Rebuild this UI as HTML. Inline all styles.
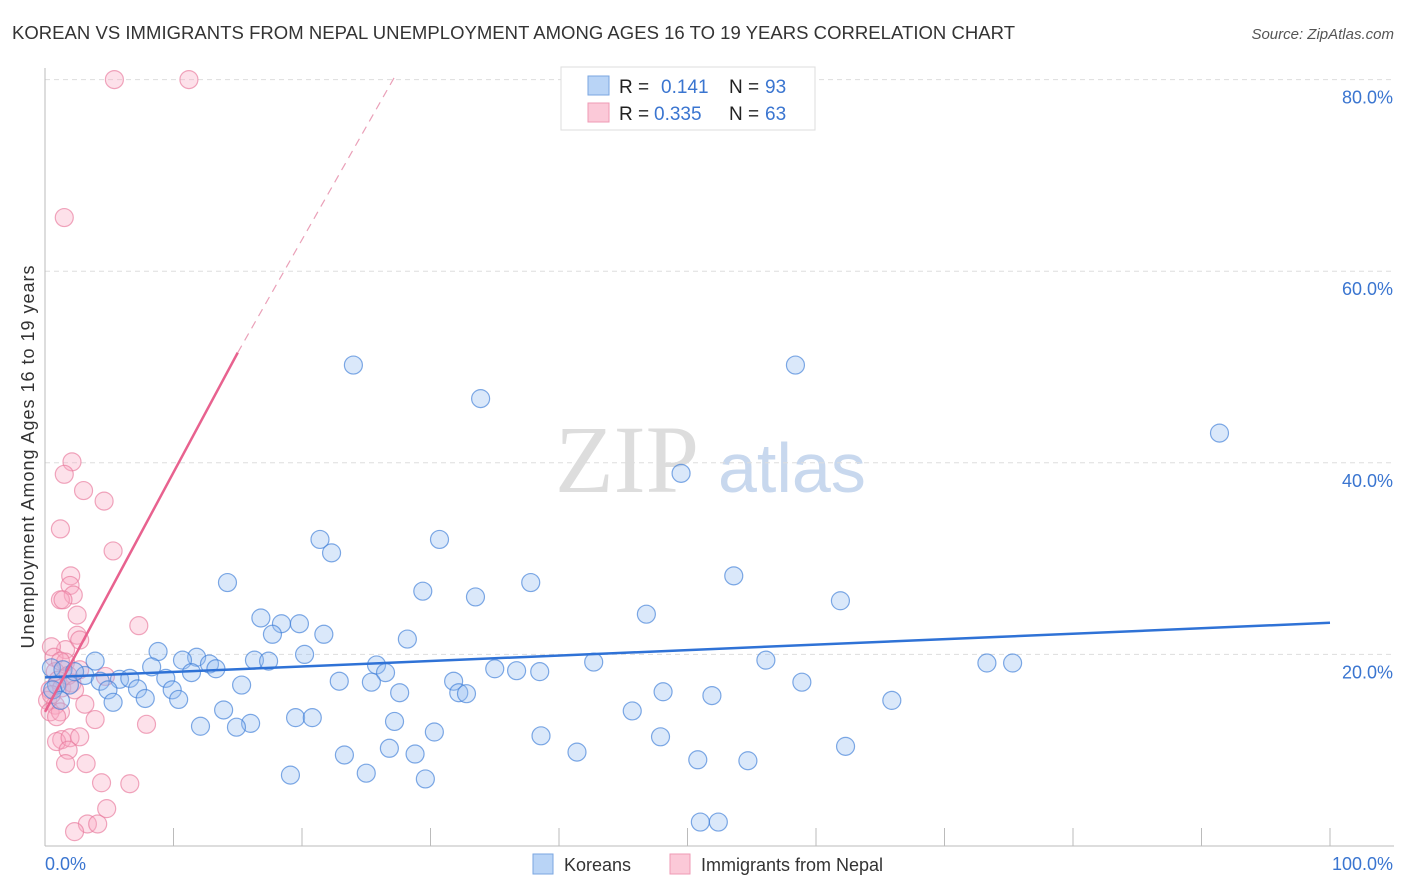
<!DOCTYPE html>
<html><head><meta charset="utf-8">
<style>
body{margin:0;background:#fff;font-family:"Liberation Sans",sans-serif;}
#wrap{position:relative;width:1406px;height:892px;overflow:hidden;}
</style></head>
<body>
<div id="wrap">
<svg id="svg" width="1406" height="892" xmlns="http://www.w3.org/2000/svg">
  <text x="12" y="39" font-size="18.5" fill="#333" textLength="1003">KOREAN VS IMMIGRANTS FROM NEPAL UNEMPLOYMENT AMONG AGES 16 TO 19 YEARS CORRELATION CHART</text>
  <text x="1394" y="39" font-size="15" fill="#555" font-style="italic" text-anchor="end">Source: ZipAtlas.com</text>
  <text x="34" y="457" font-size="18" fill="#333" text-anchor="middle" textLength="383" transform="rotate(-90 34 457)">Unemployment Among Ages 16 to 19 years</text>
  <text x="555" y="492" font-size="96" fill="#ddd" font-family="Liberation Serif,serif">ZIP</text>
  <text x="718" y="492" font-size="70" fill="#c8d8ee">atlas</text>
  <g id="grid"></g>
  <g id="marks"></g>
  <g>
    <rect x="561" y="67" width="254" height="63" fill="#fff" stroke="#ddd"/>
    <rect x="588" y="76" width="21" height="19" fill="#b9d4f6" stroke="#7aa6e0"/>
    <rect x="588" y="103" width="21" height="19" fill="#fbc9d8" stroke="#ef9ab5"/>
    <text x="619" y="93" font-size="19" fill="#222">R = </text><text x="661" y="93" font-size="19" fill="#3a75d0">0.141</text>
    <text x="729" y="93" font-size="19" fill="#222">N = </text><text x="765" y="93" font-size="19" fill="#3a75d0">93</text>
    <text x="619" y="120" font-size="19" fill="#222">R = </text><text x="654" y="120" font-size="19" fill="#3a75d0">0.335</text>
    <text x="729" y="120" font-size="19" fill="#222">N = </text><text x="765" y="120" font-size="19" fill="#3a75d0">63</text>
  </g>
  <g>
    <rect x="533" y="854" width="20" height="20" fill="#b9d4f6" stroke="#7aa6e0"/>
    <text x="564" y="871" font-size="18" fill="#333">Koreans</text>
    <rect x="670" y="854" width="20" height="20" fill="#fbc9d8" stroke="#ef9ab5"/>
    <text x="701" y="871" font-size="18" fill="#333">Immigrants from Nepal</text>
  </g>
</svg>
</div>
<script>
const yTicks=[20,40,60,80];
const yTickLabels=["20.0%","40.0%","60.0%","80.0%"];
const xEndLabels=["0.0%","100.0%"];
const blueX=[24.0,58.4,33.9,91.4,49.5,21.4,30.7,22.3,14.2,37.8,53.6,29.4,33.5,61.9,46.8,16.8,18.4,19.8,17.7,21.7,28.2,8.8,11.8,10.7,20.2,16.3,17.4,3.9,8.3,12.8,25.8,42.7,56.1,73.3,75.3,13.3,11.4,26.5,35.0,36.7,38.5,0.5,1.4,3.1,4.3,5.8,6.6,9.4,22.9,25.4,31.8,58.9,15.3,0.9,4.9,7.2,9.9,27.6,32.2,32.8,48.1,51.9,7.8,10.4,65.9,5.3,13.9,12.1,16.0,19.5,20.8,27.2,14.9,30.3,45.7,38.6,47.9,23.3,26.8,28.8,41.4,62.3,50.8,54.7,19.1,25.0,29.6,51.0,52.4,0.6,1.9,1.2,2.3];
const blueY=[50.2,50.2,46.7,43.1,38.9,32.0,32.0,30.6,27.5,27.5,28.2,26.6,26.0,25.6,24.2,23.8,23.2,23.2,22.1,22.1,21.6,20.3,19.7,19.4,20.0,19.4,19.3,19.3,18.7,19.0,18.9,19.2,19.4,19.1,19.1,18.5,18.1,18.1,18.5,18.3,18.2,18.6,18.4,17.8,17.2,17.4,17.5,17.5,17.2,17.1,17.2,17.1,16.8,16.8,16.3,16.4,16.3,16.0,16.0,15.9,16.1,15.7,15.4,15.3,15.2,15.0,14.2,12.5,12.8,13.4,13.4,13.0,12.4,11.9,14.1,11.5,11.4,9.5,10.2,9.6,9.8,10.4,9.0,8.9,7.4,7.6,7.0,2.5,2.5,16.3,16.8,15.2,18.2];
const pinkX=[5.4,11.2,1.5,2.1,1.5,3.0,4.6,1.2,5.3,2.0,1.95,2.2,1.2,1.4,2.5,7.3,2.5,2.7,1.6,0.5,0.7,1.6,2.7,4.7,0.8,1.0,0.4,1.3,2.1,0.2,0.8,0.4,1.2,0.9,3.1,3.9,7.9,1.3,0.9,1.95,2.7,1.8,1.6,3.2,4.4,6.6,4.8,3.3,4.1,2.3,1.2,1.8,2.3,0.5];
const pinkY=[80,80,65.6,40.1,38.8,37.1,36.0,33.1,30.8,28.2,27.2,26.2,25.7,25.7,24.1,23.0,22.0,21.5,20.5,20.8,19.7,19.2,18.4,17.7,18.2,17.3,16.3,16.5,17.0,15.2,14.7,14.0,14.0,13.5,14.8,13.2,12.7,11.1,10.9,11.3,11.4,10.0,8.6,8.6,6.6,6.5,3.9,2.3,2.3,1.5,19.3,17.8,16.3,15.8];
const blueFit=[17.6,23.3];
const pinkFit=[14.0,2.5];

const NS="http://www.w3.org/2000/svg";
const X0=45,X1=1330,Y0=846,PY=9.58;
const sx=v=>X0+(X1-X0)*v/100;
const sy=v=>Y0-v*PY;
function mk(tag,attrs,parent){const e=document.createElementNS(NS,tag);for(const k in attrs)e.setAttribute(k,attrs[k]);parent.appendChild(e);return e;}
const grid=document.getElementById('grid'),marks=document.getElementById('marks');
yTicks.forEach((t,i)=>{
  const l=mk('line',{x1:45,x2:1394,y1:sy(t),y2:sy(t),stroke:'#ddd','stroke-dasharray':'5,4'},grid);
  
  
  const tx=mk('text',{x:1393,y:sy(t)+24,'font-size':18,fill:'#3a75d0','text-anchor':'end'},grid);
  tx.textContent=yTickLabels[i];
  
  
});
mk('line',{x1:45,x2:45,y1:68,y2:846,stroke:'#bbb'},grid);
mk('line',{x1:45,x2:1394,y1:846,y2:846,stroke:'#bbb'},grid);
for(let i=1;i<=10;i++){mk('line',{x1:sx(i*10),x2:sx(i*10),y1:828,y2:846,stroke:'#bbb'},grid);}
const xl0=mk('text',{x:45,y:870,'font-size':18,fill:'#3a75d0'},grid);xl0.textContent=xEndLabels[0];


const xl1=mk('text',{x:1393,y:870,'font-size':18,fill:'#3a75d0','text-anchor':'end'},grid);xl1.textContent=xEndLabels[1];



pinkX.forEach((x,i)=>{
  const c=mk('circle',{cx:sx(x),cy:sy(pinkY[i]),r:9,fill:'rgba(248,170,195,0.35)',stroke:'rgba(232,120,155,0.65)','stroke-width':1.2},marks);
  
  
});
blueX.forEach((x,i)=>{
  const c=mk('circle',{cx:sx(x),cy:sy(blueY[i]),r:9,fill:'rgba(150,190,240,0.35)',stroke:'rgba(60,125,215,0.65)','stroke-width':1.2},marks);
  
  
});
const bl=mk('line',{x1:sx(0),y1:sy(blueFit[0]),x2:sx(100),y2:sy(blueFit[1]),stroke:'#2f72d6','stroke-width':2.5},marks);


const xs=15,xe=27.3;
const pl=mk('line',{x1:sx(0),y1:sy(pinkFit[0]),x2:sx(xs),y2:sy(pinkFit[0]+pinkFit[1]*xs),stroke:'#e8628f','stroke-width':2.5},marks);


const pd=mk('line',{x1:sx(xs),y1:sy(pinkFit[0]+pinkFit[1]*xs),x2:sx(xe),y2:sy(80.5),stroke:'#eaa0b8','stroke-width':1.2,'stroke-dasharray':'8,6'},marks);


</script>
</body></html>
